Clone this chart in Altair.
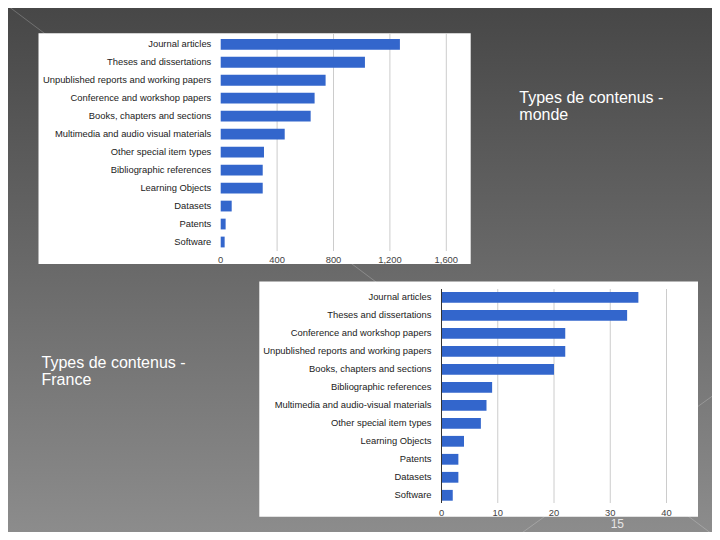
import altair as alt
import pandas as pd

# ---------------- data ----------------
monde_categories = [
    "Journal articles", "Theses and dissertations",
    "Unpublished reports and working papers", "Conference and workshop papers",
    "Books, chapters and sections", "Multimedia and audio visual materials",
    "Other special item types", "Bibliographic references", "Learning Objects",
    "Datasets", "Patents", "Software",
]
monde_values = [1271, 1023, 744, 666, 638, 454, 307, 298, 298, 78, 35, 28]
monde_ticks = [0, 400, 800, 1200, 1600]
monde_tick_labels = ["0", "400", "800", "1,200", "1,600"]

france_categories = [
    "Journal articles", "Theses and dissertations",
    "Conference and workshop papers", "Unpublished reports and working papers",
    "Books, chapters and sections", "Bibliographic references",
    "Multimedia and audio-visual materials", "Other special item types",
    "Learning Objects", "Patents", "Datasets", "Software",
]
france_values = [35, 33, 22, 22, 20, 9, 8, 7, 4, 3, 3, 2]
france_ticks = [0, 10, 20, 30, 40]
france_tick_labels = ["0", "10", "20", "30", "40"]

monde_title_lines = ["Types de contenus -", "monde"]
france_title_lines = ["Types de contenus -", "France"]
page_number = "15"

# ---------------- styles ----------------
BAR = "#3366cc"
FONT = "Arial"
LABEL_SIZE = 9.4
W, H = 704, 524
OFF = 8  # page margin: reference pixel -> chart pixel

monde_df = pd.DataFrame({"cat": monde_categories, "val": monde_values})
france_df = pd.DataFrame({"cat": france_categories, "val": france_values})
monde_tick_df = pd.DataFrame({"t": monde_ticks, "lab": monde_tick_labels})
france_tick_df = pd.DataFrame({"t": france_ticks, "lab": france_tick_labels})
one = pd.DataFrame({"d": [0]})


def mx():
    return alt.Scale(domain=[0, 1600], range=[220.7 - OFF, 446.3 - OFF])


def my():
    return alt.Scale(domain=monde_categories, range=[35.3 - OFF, 251.0 - OFF],
                     paddingInner=0.4, paddingOuter=0.2)


def fx():
    return alt.Scale(domain=[0, 40], range=[441.5 - OFF, 666.5 - OFF])


def fy():
    return alt.Scale(domain=france_categories, range=[288.3 - OFF, 504.3 - OFF],
                     paddingInner=0.4, paddingOuter=0.2)


# background gradient
bg = alt.Chart(one).mark_rect(
    color=alt.Gradient(
        gradient="linear",
        stops=[alt.GradientStop(color="#474747", offset=0),
               alt.GradientStop(color="#8c8c8c", offset=1)],
        x1=0, x2=0, y1=0, y2=1,
    )
).encode(x=alt.value(0), x2=alt.value(W), y=alt.value(0), y2=alt.value(H))

# faint theme lines
diag1 = alt.Chart(one).mark_rule(color="white", opacity=0.22, strokeWidth=1).encode(
    x=alt.value(-OFF), y=alt.value(-OFF), x2=alt.value(720 - OFF), y2=alt.value(540 - OFF))
diag2 = alt.Chart(one).mark_rule(color="white", opacity=0.22, strokeWidth=1).encode(
    x=alt.value(505 - OFF), y=alt.value(545 - OFF), x2=alt.value(725 - OFF), y2=alt.value(387 - OFF))

# white boxes
box1 = alt.Chart(one).mark_rect(color="white").encode(
    x=alt.value(38.5 - OFF), x2=alt.value(470.7 - OFF),
    y=alt.value(33.3 - OFF), y2=alt.value(264 - OFF))
box2 = alt.Chart(one).mark_rect(color="white").encode(
    x=alt.value(259.3 - OFF), x2=alt.value(698 - OFF),
    y=alt.value(281.5 - OFF), y2=alt.value(516.7 - OFF))

# ---------- monde chart ----------
m_grid = alt.Chart(monde_tick_df[monde_tick_df.t > 0]).mark_rule(color="#cccccc", strokeWidth=1).encode(
    x=alt.X("t:Q", scale=mx(), axis=None),
    y=alt.value(33.5 - OFF), y2=alt.value(251 - OFF))
m_bars = alt.Chart(monde_df).mark_bar(color=BAR).encode(
    x=alt.X("val:Q", scale=mx(), axis=None),
    y=alt.Y("cat:N", scale=my(), axis=None))
m_labels = alt.Chart(monde_df).mark_text(
    align="right", baseline="middle", font=FONT, fontSize=LABEL_SIZE, color="#222222"
).encode(
    y=alt.Y("cat:N", scale=my(), axis=None),
    x=alt.value(211.3 - OFF), text="cat:N")
m_ticks = alt.Chart(monde_tick_df).mark_text(
    align="center", baseline="middle", font=FONT, fontSize=LABEL_SIZE, color="#444444"
).encode(
    x=alt.X("t:Q", scale=mx(), axis=None),
    y=alt.value(259.7 - OFF), text="lab:N")

# ---------- france chart ----------
f_grid = alt.Chart(france_tick_df[france_tick_df.t > 0]).mark_rule(color="#cccccc", strokeWidth=1).encode(
    x=alt.X("t:Q", scale=fx(), axis=None),
    y=alt.value(289 - OFF), y2=alt.value(503 - OFF))
f_bars = alt.Chart(france_df).mark_bar(color=BAR).encode(
    x=alt.X("val:Q", scale=fx(), axis=None),
    y=alt.Y("cat:N", scale=fy(), axis=None))
f_base = alt.Chart(france_tick_df[france_tick_df.t == 0]).mark_rule(color="#333333", strokeWidth=1).encode(
    x=alt.X("t:Q", scale=fx(), axis=None),
    y=alt.value(289 - OFF), y2=alt.value(503 - OFF))
f_labels = alt.Chart(france_df).mark_text(
    align="right", baseline="middle", font=FONT, fontSize=LABEL_SIZE, color="#222222"
).encode(
    y=alt.Y("cat:N", scale=fy(), axis=None),
    x=alt.value(431.5 - OFF), text="cat:N")
f_ticks = alt.Chart(france_tick_df).mark_text(
    align="center", baseline="middle", font=FONT, fontSize=LABEL_SIZE, color="#444444"
).encode(
    x=alt.X("t:Q", scale=fx(), axis=None),
    y=alt.value(512.7 - OFF), text="lab:N")

# ---------- slide texts ----------
t_monde = alt.Chart(one).mark_text(
    align="left", baseline="alphabetic", font=FONT, fontSize=16, color="white", lineHeight=17
).encode(x=alt.value(519.3 - OFF), y=alt.value(102.7 - OFF), text=alt.value(monde_title_lines))
t_france = alt.Chart(one).mark_text(
    align="left", baseline="alphabetic", font=FONT, fontSize=16, color="white", lineHeight=17
).encode(x=alt.value(41.5 - OFF), y=alt.value(367.6 - OFF), text=alt.value(france_title_lines))
t_page = alt.Chart(one).mark_text(
    align="left", baseline="alphabetic", font=FONT, fontSize=12, color="#e6e6e6"
).encode(x=alt.value(610.7 - OFF), y=alt.value(527.7 - OFF), text=alt.value(page_number))

chart = alt.layer(
    bg, diag1, diag2, box1, box2,
    m_grid, m_bars, m_labels, m_ticks,
    f_grid, f_bars, f_base, f_labels, f_ticks,
    t_monde, t_france, t_page,
).resolve_scale(
    x="independent", y="independent"
).properties(
    width=W, height=H, padding=0,
    autosize=alt.AutoSizeParams(type="none"),
).configure_view(strokeWidth=0)

chart.save("out.html", embed_options={"renderer": "svg", "actions": False})
